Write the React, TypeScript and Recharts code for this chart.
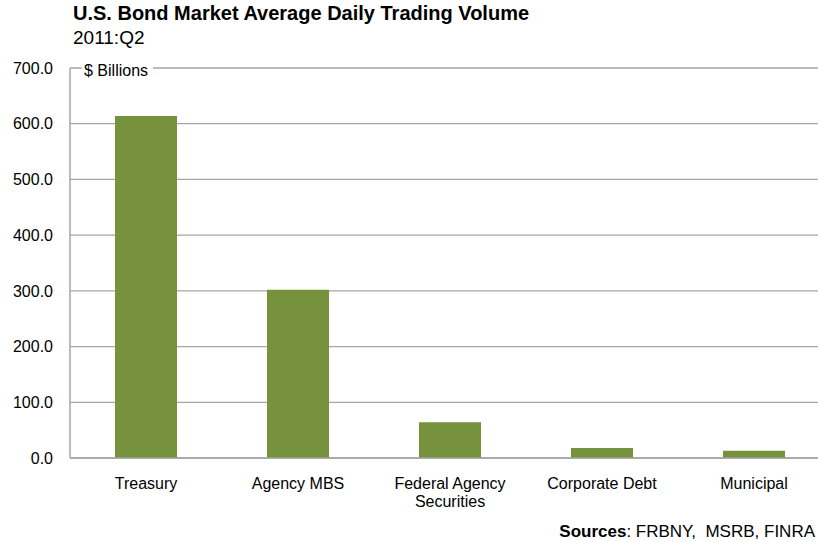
import { BarChart, Bar, XAxis, YAxis, CartesianGrid } from "recharts";

const categories = ["Treasury", "Agency MBS", "Federal Agency Securities", "Corporate Debt", "Municipal"];
const volume = [614, 302, 64, 18, 13];
const yTicks = [0, 100, 200, 300, 400, 500, 600, 700];

const data = categories.map((name, i) => ({ name, volume: volume[i] }));

const FONT = "'Liberation Sans', Arial, sans-serif";

function CategoryTick({ x, y, payload }: { x?: number; y?: number; payload?: { value: string } }) {
  const label = payload?.value ?? "";
  // wrap the long one onto two lines like the original
  const lines = label === "Federal Agency Securities" ? ["Federal Agency", "Securities"] : [label];
  return (
    <text x={x} y={y} textAnchor="middle" fontSize={16} fontFamily={FONT} fill="#000">
      {lines.map((l, i) => (
        <tspan key={i} x={x} dy={i === 0 ? 29 : 18}>{l}</tspan>
      ))}
    </text>
  );
}

export default function App() {
  return (
    <div style={{ position: "fixed", left: 0, top: 0, width: 818, height: 542, overflow: "hidden", background: "#fff", fontFamily: FONT }}>
      <div style={{ position: "absolute", left: 73, top: 2, fontSize: 20, fontWeight: "bold", whiteSpace: "nowrap" }}>
        U.S. Bond Market Average Daily Trading Volume
      </div>
      <div style={{ position: "absolute", left: 73, top: 27, fontSize: 19 }}>2011:Q2</div>
      <BarChart width={840} height={542} data={data} margin={{ top: 68, right: 10, left: 0, bottom: 54 }}>
        <CartesianGrid vertical={false} stroke="#a6a6a6" strokeWidth={1.3} />
        <XAxis dataKey="name" height={30} interval={0} tickLine={false} tickSize={0} axisLine={{ stroke: "#a6a6a6", strokeWidth: 1.5 }} tick={<CategoryTick />} />
        <YAxis width={70} domain={[0, 700]} ticks={yTicks} interval={0} tickLine={false} tickSize={0} tickMargin={17}
          axisLine={{ stroke: "#a6a6a6", strokeWidth: 1.5 }}
          tickFormatter={(v: number) => v.toFixed(1)}
          tick={{ fontSize: 16, fill: "#000", fontFamily: FONT }} />
        <Bar dataKey="volume" fill="#76923C" barSize={62} isAnimationActive={false} />
      </BarChart>
      <div style={{ position: "absolute", left: 82, top: 62, fontSize: 16, background: "#fff", padding: "0 5px 0 2px", whiteSpace: "nowrap" }}>
        $ Billions
      </div>
      <div style={{ position: "absolute", right: 3, top: 522, fontSize: 17, whiteSpace: "nowrap" }}>
        <b>Sources</b>: FRBNY,&nbsp; MSRB, FINRA
      </div>
    </div>
  );
}
